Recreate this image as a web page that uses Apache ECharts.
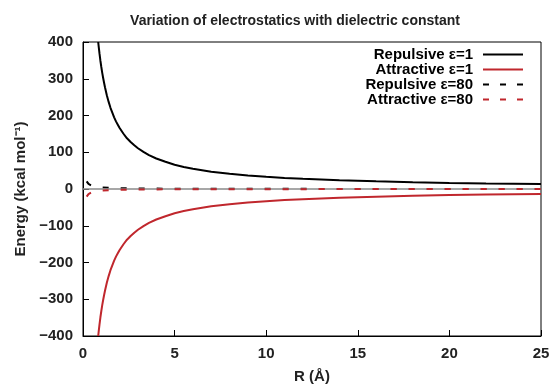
<!DOCTYPE html>
<html>
<head>
<meta charset="utf-8">
<script src="https://cdn.jsdelivr.net/npm/echarts@6/dist/echarts.min.js"></script>
<style>
  html, body { margin: 0; padding: 0; background: #fff; }
  #chart { width: 554px; height: 386px; }
</style>
</head>
<body>
<div id="chart"></div>
<script>
// values
const rE1 = [0.83, 0.86, 0.9, 0.95, 1.0, 1.05, 1.1, 1.15, 1.2, 1.3, 1.4, 1.5, 1.6, 1.7, 1.8, 1.9, 2.0, 2.2, 2.4, 2.6, 2.8, 3.0, 3.3, 3.6, 4.0, 4.5, 5, 5.5, 6, 7, 8, 9, 10, 11, 12, 14, 16, 18, 20, 22, 25];
const repulsiveE1 = [400, 386, 369, 349, 332, 316, 302, 289, 277, 255, 237, 221, 208, 195, 184, 175, 166, 151, 138, 128, 119, 111, 101, 92, 83, 74, 66, 60, 55, 47, 41.5, 36.9, 33.2, 30.2, 27.7, 23.7, 20.8, 18.4, 16.6, 15.1, 13.3];
const attractiveE1 = [-400, -386, -369, -349, -332, -316, -302, -289, -277, -255, -237, -221, -208, -195, -184, -175, -166, -151, -138, -128, -119, -111, -101, -92, -83, -74, -66, -60, -55, -47, -41.5, -36.9, -33.2, -30.2, -27.7, -23.7, -20.8, -18.4, -16.6, -15.1, -13.3];
const rE80 = [0.2, 0.25, 0.3, 0.4, 0.5, 0.7, 1, 1.5, 2, 3, 5, 8, 12, 18, 25];
const repulsiveE80 = [20.8, 16.6, 13.8, 10.4, 8.3, 5.9, 4.2, 2.8, 2.1, 1.4, 0.8, 0.5, 0.35, 0.23, 0.17];
const attractiveE80 = [-20.8, -16.6, -13.8, -10.4, -8.3, -5.9, -4.2, -2.8, -2.1, -1.4, -0.8, -0.5, -0.35, -0.23, -0.17];
const xTicks = [0, 5, 10, 15, 20, 25];
const yTicks = [-400, -300, -200, -100, 0, 100, 200, 300, 400];

const pairs = (xs, ys) => xs.map((x, i) => [x, ys[i]]);
const font = "'Liberation Sans', Arial, sans-serif";
const red = "#c0272d";
const solidIcon = "path://M0,0h40v2h-40z";
const dashIcon = "path://M0,0h6v2h-6z M17,0h6v2h-6z M34,0h6v2h-6z";

const chart = echarts.init(document.getElementById("chart"));
chart.setOption({
  animation: false,
  title: {
    text: "Variation of electrostatics with dielectric constant",
    left: 290,
    textAlign: "center",
    top: 9,
    textStyle: { fontFamily: font, fontWeight: "bold", fontSize: 14, color: "#222" },
  },
  grid: {
    left: 83, right: 13, top: 42, bottom: 50,
    outerBoundsMode: "none",
    show: true, borderColor: "#000", borderWidth: 1,
  },
  legend: {
    orient: "vertical",
    right: 26,
    top: 42,
    align: "right",
    itemWidth: 40,
    itemHeight: 2,
    itemGap: 0,
    lineStyle: { width: 0 },
    textStyle: { fontFamily: font, fontWeight: "bold", fontSize: 15, lineHeight: 14.7, color: "#000", padding: [0, 5, 0, 0] },
    data: [
      { name: "Repulsive ε=1", icon: solidIcon },
      { name: "Attractive ε=1", icon: solidIcon },
      { name: "Repulsive ε=80", icon: dashIcon },
      { name: "Attractive ε=80", icon: dashIcon },
    ],
  },
  xAxis: {
    type: "value",
    min: xTicks[0],
    max: xTicks[xTicks.length - 1],
    interval: 5,
    name: "R (Å)",
    nameLocation: "middle",
    nameGap: 33,
    nameTextStyle: { fontFamily: font, fontWeight: "bold", fontSize: 15, color: "#222" },
    axisLine: { show: true, onZero: false, lineStyle: { color: "#000" } },
    axisTick: { show: true, inside: true, length: 6, lineStyle: { color: "#000" } },
    axisLabel: { fontFamily: font, fontWeight: "bold", fontSize: 15, color: "#222", margin: 10 },
    splitLine: { show: false },
  },
  yAxis: {
    type: "value",
    min: yTicks[0],
    max: yTicks[yTicks.length - 1],
    interval: 100,
    name: "Energy (kcal mol⁻¹)",
    nameLocation: "middle",
    nameGap: 55,
    nameTextStyle: { fontFamily: font, fontWeight: "bold", fontSize: 15, color: "#222" },
    axisLine: { show: true, onZero: false, lineStyle: { color: "#000" } },
    axisTick: { show: true, inside: true, length: 6, lineStyle: { color: "#000" } },
    axisLabel: {
      fontFamily: font, fontWeight: "bold", fontSize: 15, color: "#222", margin: 10,
      formatter: (v) => String(v).replace("-", "−"),
    },
    splitLine: { show: false },
  },
  series: [
    {
      name: "Repulsive ε=1",
      type: "line",
      data: pairs(rE1, repulsiveE1),
      symbol: "none",
      lineStyle: { color: "#000", width: 2 },
      itemStyle: { color: "#000" },
      markLine: {
        silent: true,
        symbol: "none",
        label: { show: false },
        lineStyle: { color: "#8a8a8a", width: 1.5, type: "solid" },
        data: [{ yAxis: 0 }],
      },
      z: 3,
    },
    {
      name: "Attractive ε=1",
      type: "line",
      data: pairs(rE1, attractiveE1),
      symbol: "none",
      lineStyle: { color: red, width: 2 },
      itemStyle: { color: red },
      z: 3,
    },
    {
      name: "Repulsive ε=80",
      type: "line",
      data: pairs(rE80, repulsiveE80),
      symbol: "none",
      lineStyle: { color: "#000", width: 2, type: [6, 12] },
      itemStyle: { color: "#000" },
      z: 4,
    },
    {
      name: "Attractive ε=80",
      type: "line",
      data: pairs(rE80, attractiveE80),
      symbol: "none",
      lineStyle: { color: red, width: 2, type: [6, 12] },
      itemStyle: { color: red },
      z: 5,
    },
  ],
});
</script>
</body>
</html>
